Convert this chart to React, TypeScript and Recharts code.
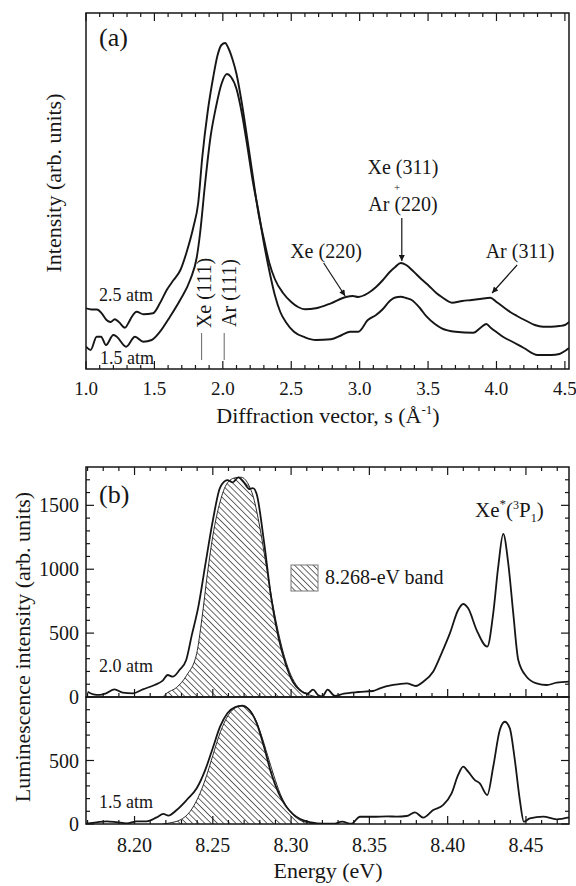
import React from 'react';
import {
  ComposedChart,
  Line,
  Area,
  XAxis,
  YAxis,
  ReferenceLine,
  ReferenceArea,
} from 'recharts';

const INK = '#161616';
const SERIF = '"Liberation Serif", "Times New Roman", Times, serif';

// ---- panel (a): electron diffraction ----
const sTicks = [1.0, 1.1, 1.2, 1.3, 1.4, 1.5, 1.6, 1.7, 1.8, 1.9, 2.0, 2.1, 2.2, 2.3, 2.4, 2.5, 2.6, 2.7, 2.8, 2.9, 3.0, 3.1, 3.2, 3.3, 3.4, 3.5, 3.6, 3.7, 3.8, 3.9, 4.0, 4.1, 4.2, 4.3, 4.4, 4.5];
const sMajor = [1.0, 1.5, 2.0, 2.5, 3.0, 3.5, 4.0, 4.5];

// 2.5 atm
const sHigh = [1.0, 1.04, 1.08, 1.115, 1.15, 1.18, 1.21, 1.24, 1.285, 1.31, 1.335, 1.37, 1.42, 1.49, 1.54, 1.59, 1.64, 1.69, 1.74, 1.785, 1.82, 1.85, 1.89, 1.93, 1.96, 1.99, 2.017, 2.04, 2.07, 2.1, 2.14, 2.18, 2.22, 2.26, 2.3, 2.34, 2.38, 2.44, 2.5, 2.55, 2.6, 2.68, 2.79, 2.9, 2.95, 2.99, 3.06, 3.12, 3.17, 3.22, 3.26, 3.3, 3.34, 3.39, 3.45, 3.5, 3.56, 3.6, 3.675, 3.75, 3.82, 3.88, 3.955, 4.0, 4.05, 4.1, 4.15, 4.22, 4.28, 4.34, 4.4, 4.46, 4.5, 4.53];
const iHigh = [60.7, 59.5, 59.5, 55.7, 49, 47, 49.7, 47, 41.3, 46, 52.3, 57.3, 54.7, 55.7, 65.7, 79, 89, 99, 119, 142, 166, 212, 258, 292, 313, 324, 326, 321, 310, 295, 265, 229, 192, 156, 130, 106, 90, 76, 67, 62, 59.7, 60.7, 65.7, 72, 73, 72, 75.7, 82, 89, 97, 102, 106, 104, 98, 90, 84, 76, 72, 66.3, 68, 69, 70, 71.3, 67, 62, 57, 53, 48, 44, 42.3, 42.3, 43, 44, 47];

// 1.5 atm
const sLow = [1.0, 1.034, 1.078, 1.11, 1.146, 1.2, 1.225, 1.293, 1.358, 1.419, 1.48, 1.541, 1.614, 1.688, 1.761, 1.81, 1.834, 1.87, 1.91, 1.95, 1.99, 2.03, 2.06, 2.1, 2.14, 2.18, 2.22, 2.26, 2.3, 2.34, 2.38, 2.42, 2.46, 2.52, 2.6, 2.68, 2.79, 2.87, 2.93, 2.99, 3.06, 3.12, 3.17, 3.22, 3.26, 3.3, 3.34, 3.38, 3.44, 3.49, 3.55, 3.6, 3.7, 3.83, 3.89, 3.926, 3.96, 4.0, 4.05, 4.12, 4.2, 4.3, 4.4, 4.46, 4.5, 4.53];
const iLow = [22.3, 19, 32.3, 32.3, 24, 34, 32.3, 22.3, 32.3, 27.3, 29, 37.3, 52.3, 69, 89, 112, 136, 185, 232, 262, 285, 295, 292, 280, 255, 222, 187, 158, 126, 98, 74, 57, 47, 37.3, 31.7, 29, 29.7, 34, 37.3, 37.3, 49, 54, 60, 68, 71.5, 72.3, 71, 69, 61, 52.3, 45, 40.7, 37.3, 36.3, 42, 45, 41, 37, 32, 27, 21, 14, 14, 15, 18, 21];

// ---- panel (b): luminescence ----
const eTicks = [8.17, 8.18, 8.19, 8.2, 8.21, 8.22, 8.23, 8.24, 8.25, 8.26, 8.27, 8.28, 8.29, 8.3, 8.31, 8.32, 8.33, 8.34, 8.35, 8.36, 8.37, 8.38, 8.39, 8.4, 8.41, 8.42, 8.43, 8.44, 8.45, 8.46, 8.47];
const eMajor = [8.2, 8.25, 8.3, 8.35, 8.4, 8.45];
const lumTicksTop = [0, 100, 200, 300, 400, 500, 600, 700, 800, 900, 1000, 1100, 1200, 1300, 1400, 1500, 1600, 1700];
const lumMajorTop = [0, 500, 1000, 1500];
const lumTicksBot = [0, 100, 200, 300, 400, 500, 600, 700, 800, 900];
const lumMajorBot = [0, 500];

// 2.0 atm spectrum
const eTop = [8.17, 8.1737, 8.1777, 8.1818, 8.1872, 8.1925, 8.199, 8.2053, 8.2128, 8.218, 8.2212, 8.2244, 8.2287, 8.233, 8.2365, 8.2407, 8.2453, 8.25, 8.2547, 8.2593, 8.2628, 8.2663, 8.2698, 8.2733, 8.2756, 8.278, 8.2826, 8.2872, 8.2919, 8.2965, 8.3012, 8.3058, 8.3105, 8.314, 8.3174, 8.32, 8.3233, 8.328, 8.3337, 8.343, 8.3523, 8.3567, 8.3652, 8.3738, 8.3797, 8.3844, 8.3908, 8.3961, 8.4014, 8.4067, 8.4099, 8.4131, 8.4185, 8.4253, 8.4291, 8.4323, 8.4355, 8.4387, 8.4419, 8.4451, 8.4504, 8.4568, 8.4632, 8.4696, 8.4775];
const lTop = [41, 21, 16, 29, 60, 34, 29, 60, 94, 128, 172, 159, 211, 290, 480, 703, 1042, 1380, 1641, 1698, 1680, 1719, 1680, 1628, 1635, 1588, 1224, 781, 469, 260, 117, 52, 26, 57, 13, 5, 57, 8, 26, 39, 47, 68, 94, 107, 86, 120, 200, 342, 498, 681, 728, 694, 524, 394, 655, 1020, 1276, 1046, 655, 290, 159, 107, 94, 112, 120];
// 8.268-eV band fit, 2.0 atm
const eFitTop = [8.218, 8.2205, 8.2269, 8.2333, 8.2397, 8.243, 8.2465, 8.25, 8.2547, 8.259, 8.264, 8.268, 8.272, 8.276, 8.28, 8.2845, 8.289, 8.2935, 8.298, 8.302, 8.306, 8.31, 8.314, 8.318];
const fTop = [0, 29, 75, 170, 340, 610, 960, 1260, 1530, 1670, 1715, 1720, 1680, 1560, 1330, 1000, 680, 420, 230, 120, 55, 25, 8, 0];

// 1.5 atm spectrum
const eBot = [8.169, 8.1758, 8.1822, 8.1886, 8.195, 8.2014, 8.2078, 8.2141, 8.2184, 8.2216, 8.2269, 8.2333, 8.2397, 8.2453, 8.25, 8.2547, 8.2593, 8.264, 8.2686, 8.2733, 8.278, 8.2826, 8.2872, 8.2919, 8.2965, 8.3012, 8.3058, 8.3128, 8.32, 8.327, 8.3326, 8.3384, 8.344, 8.3523, 8.3616, 8.3674, 8.3738, 8.3791, 8.3844, 8.3908, 8.3972, 8.4025, 8.4067, 8.4099, 8.4131, 8.4174, 8.4205, 8.4253, 8.4291, 8.4333, 8.4365, 8.4397, 8.4429, 8.4461, 8.4487, 8.4525, 8.461, 8.4696, 8.4775];
const lBot = [3, 13, 21, 14, 5, 21, 21, 52, 79, 66, 110, 189, 281, 430, 599, 768, 872, 919, 930, 898, 794, 612, 404, 247, 143, 78, 39, 13, 2, 2, 18, 2, 57, 57, 60, 58, 63, 92, 50, 110, 150, 241, 386, 451, 412, 346, 320, 228, 451, 740, 805, 753, 504, 189, 18, 45, 58, 37, 52];
// 8.268-eV band fit, 1.5 atm
const eFitBot = [8.218, 8.224, 8.229, 8.2354, 8.2418, 8.246, 8.25, 8.255, 8.26, 8.265, 8.269, 8.273, 8.277, 8.281, 8.285, 8.289, 8.293, 8.297, 8.301, 8.305, 8.31, 8.315];
const fBot = [0, 12, 31, 97, 241, 380, 540, 730, 860, 920, 935, 905, 830, 700, 540, 380, 240, 140, 75, 35, 12, 0];

const zip = (xs: number[], ys: number[]) =>
  xs.slice(0, Math.min(xs.length, ys.length)).map((x, i) => ({ x, y: ys[i] }));

const isMajor = (v: number, majors: number[]) => majors.some((m) => Math.abs(m - v) < 1e-6);

type TickArgs = { x?: number; y?: number; payload?: { value: number } };

// inward ticks on bottom (and optionally top) edge
const xTick =
  (span: number, majors: number[], top: boolean, labels: boolean, digits: number, fontSize: number, gap: number) =>
  (p: TickArgs) => {
    const x = p.x ?? 0;
    const y = p.y ?? 0;
    const v = p.payload ? p.payload.value : 0;
    const major = isMajor(v, majors);
    const len = major ? 8 : 4;
    return (
      <g>
        <line x1={x} x2={x} y1={y} y2={y - len} stroke={INK} strokeWidth={1.2} />
        {top && <line x1={x} x2={x} y1={y - span} y2={y - span + len} stroke={INK} strokeWidth={1.2} />}
        {labels && major && (
          <text x={x} y={y + gap} textAnchor="middle" fontSize={fontSize} fontFamily={SERIF} fill={INK}>
            {v.toFixed(digits)}
          </text>
        )}
      </g>
    );
  };

// inward ticks on left and right edges
const yTick = (span: number, majors: number[]) => (p: TickArgs) => {
  const x = p.x ?? 0;
  const y = p.y ?? 0;
  const v = p.payload ? p.payload.value : 0;
  const major = isMajor(v, majors);
  const len = major ? 8 : 4;
  return (
    <g>
      <line x1={x} x2={x + len} y1={y} y2={y} stroke={INK} strokeWidth={1.2} />
      <line x1={x + span} x2={x + span - len} y1={y} y2={y} stroke={INK} strokeWidth={1.2} />
      {major && (
        <text x={x - 7} y={y + 7} textAnchor="end" fontSize={20} fontFamily={SERIF} fill={INK}>
          {v}
        </text>
      )}
    </g>
  );
};

const Hatch = ({ id }: { id: string }) => (
  <pattern id={id} patternUnits="userSpaceOnUse" width={4.4} height={4.4} patternTransform="rotate(45)">
    <path d="M0,2.2 H4.4" stroke="#2a2a2a" strokeWidth={0.7} />
  </pattern>
);

const S_MAX = 4.53;
const E_MIN = 8.169;
const E_MAX = 8.4775;

export default function App() {
  const highData = zip(sHigh, iHigh);
  const lowData = zip(sLow, iLow);
  const topData = zip(eTop, lTop);
  const topFit = zip(eFitTop, fTop);
  const botData = zip(eBot, lBot);
  const botFit = zip(eFitBot, fBot);

  return (
    <div style={{ position: 'absolute', left: 0, top: 0, width: 576, height: 886, background: '#fff', fontFamily: SERIF }}>
      {/* (a) */}
      <div style={{ position: 'absolute', left: 0, top: 0 }}>
        <ComposedChart width={576} height={440} margin={{ top: 13, right: 7, bottom: 41, left: 86 }}>
          <defs>
            <marker id="arrowA" viewBox="0 0 10 10" refX={10} refY={5} markerWidth={10} markerHeight={6} markerUnits="userSpaceOnUse" orient="auto">
              <path d="M0,0 L10,5 L0,10 z" fill={INK} />
            </marker>
          </defs>
          <XAxis
            type="number"
            dataKey="x"
            domain={[1, S_MAX]}
            allowDataOverflow
            ticks={sTicks}
            interval={0}
            height={30}
            axisLine={false}
            tickLine={false}
            tickSize={0}
            tickMargin={0}
            tick={xTick(356, sMajor, true, true, 1, 19, 26)}
          />
          <YAxis type="number" domain={[0, 356]} allowDataOverflow hide />
          <ReferenceArea x1={1} x2={S_MAX} y1={0} y2={356} fill="none" stroke={INK} strokeWidth={1.5} ifOverflow="visible" />
          <Line data={highData} dataKey="y" type="monotone" stroke={INK} strokeWidth={1.9} dot={false} isAnimationActive={false} />
          <Line data={lowData} dataKey="y" type="monotone" stroke={INK} strokeWidth={1.9} dot={false} isAnimationActive={false} />
          <ReferenceLine segment={[{ x: 1.845, y: 9 }, { x: 1.845, y: 36 }]} stroke="#666" strokeWidth={1} ifOverflow="visible" />
          <ReferenceLine segment={[{ x: 2.01, y: 9 }, { x: 2.01, y: 36 }]} stroke="#666" strokeWidth={1} ifOverflow="visible" />
          <ReferenceLine segment={[{ x: 2.737, y: 106 }, { x: 2.894, y: 73 }]} stroke={INK} strokeWidth={1.2} markerEnd="url(#arrowA)" ifOverflow="visible" />
          <ReferenceLine segment={[{ x: 3.308, y: 151 }, { x: 3.308, y: 108 }]} stroke={INK} strokeWidth={1.2} markerEnd="url(#arrowA)" ifOverflow="visible" />
          <ReferenceLine segment={[{ x: 4.151, y: 104 }, { x: 3.968, y: 76 }]} stroke={INK} strokeWidth={1.2} markerEnd="url(#arrowA)" ifOverflow="visible" />
        </ComposedChart>
      </div>

      {/* (b) upper: 2.0 atm */}
      <div style={{ position: 'absolute', left: 0, top: 440 }}>
        <ComposedChart width={576} height={270} margin={{ top: 27, right: 7, bottom: 12, left: 26 }}>
          <defs>
            <Hatch id="hatchTop" />
          </defs>
          <XAxis
            type="number"
            dataKey="x"
            domain={[E_MIN, E_MAX]}
            allowDataOverflow
            ticks={eTicks}
            interval={0}
            height={1}
            axisLine={false}
            tickLine={false}
            tickSize={0}
            tickMargin={0}
            tick={xTick(230, eMajor, true, false, 2, 20, 28)}
          />
          <YAxis
            type="number"
            domain={[0, 1800]}
            allowDataOverflow
            ticks={lumTicksTop}
            interval={0}
            width={60}
            axisLine={false}
            tickLine={false}
            tickSize={0}
            tickMargin={0}
            tick={yTick(483, lumMajorTop)}
          />
          <ReferenceArea x1={E_MIN} x2={E_MAX} y1={0} y2={1800} fill="none" stroke={INK} strokeWidth={1.5} ifOverflow="visible" />
          <Area data={topFit} dataKey="y" type="monotone" fill="url(#hatchTop)" fillOpacity={1} stroke={INK} strokeWidth={0.9} isAnimationActive={false} />
          <Line data={topData} dataKey="y" type="monotone" stroke={INK} strokeWidth={1.8} dot={false} isAnimationActive={false} />
        </ComposedChart>
      </div>

      {/* (b) lower: 1.5 atm */}
      <div style={{ position: 'absolute', left: 0, top: 690 }}>
        <ComposedChart width={576} height={196} margin={{ top: 7, right: 7, bottom: 32, left: 26 }}>
          <defs>
            <Hatch id="hatchBot" />
          </defs>
          <XAxis
            type="number"
            dataKey="x"
            domain={[E_MIN, E_MAX]}
            allowDataOverflow
            ticks={eTicks}
            interval={0}
            height={30}
            axisLine={false}
            tickLine={false}
            tickSize={0}
            tickMargin={0}
            tick={xTick(127, eMajor, false, true, 2, 20, 28)}
          />
          <YAxis
            type="number"
            domain={[0, 1000]}
            allowDataOverflow
            ticks={lumTicksBot}
            interval={0}
            width={60}
            axisLine={false}
            tickLine={false}
            tickSize={0}
            tickMargin={0}
            tick={yTick(483, lumMajorBot)}
          />
          <ReferenceArea x1={E_MIN} x2={E_MAX} y1={0} y2={1000} fill="none" stroke={INK} strokeWidth={1.5} ifOverflow="visible" />
          <Area data={botFit} dataKey="y" type="monotone" fill="url(#hatchBot)" fillOpacity={1} stroke={INK} strokeWidth={0.9} isAnimationActive={false} />
          <Line data={botData} dataKey="y" type="monotone" stroke={INK} strokeWidth={1.8} dot={false} isAnimationActive={false} />
        </ComposedChart>
      </div>

      {/* labels */}
      <svg width={576} height={886} style={{ position: 'absolute', left: 0, top: 0, pointerEvents: 'none' }} fontFamily={SERIF} fill={INK}>
        <defs>
          <Hatch id="hatchKey" />
        </defs>
        <text x={99} y={46} fontSize={26}>(a)</text>
        <text x={99} y={301} fontSize={18}>2.5 atm</text>
        <text x={100} y={364} fontSize={18}>1.5 atm</text>
        <text transform="translate(203.5,293) rotate(-90)" textAnchor="middle" dominantBaseline="central" fontSize={20}>Xe (111)</text>
        <text transform="translate(229,293) rotate(-90)" textAnchor="middle" dominantBaseline="central" fontSize={20}>Ar (111)</text>
        <text x={326} y={258} textAnchor="middle" fontSize={20}>Xe (220)</text>
        <text x={403} y={174} textAnchor="middle" fontSize={20}>Xe (311)</text>
        <text x={397} y={191} textAnchor="middle" fontSize={11}>+</text>
        <text x={403} y={211} textAnchor="middle" fontSize={20}>Ar (220)</text>
        <text x={520} y={258} textAnchor="middle" fontSize={20}>Ar (311)</text>
        <text transform="translate(53,183) rotate(-90)" textAnchor="middle" dominantBaseline="central" fontSize={22}>Intensity (arb. units)</text>
        <text x={328} y={423} textAnchor="middle" fontSize={22}>
          Diffraction vector, s (Å<tspan dy={-9} fontSize={13}>-1</tspan>
          <tspan dy={9}>)</tspan>
        </text>

        <text x={99} y={503} fontSize={26}>(b)</text>
        <text x={475} y={517} fontSize={21}>
          Xe<tspan dy={-9} fontSize={13}>*</tspan>
          <tspan dy={9}>(</tspan>
          <tspan dy={-8} fontSize={12}>3</tspan>
          <tspan dy={8}>P</tspan>
          <tspan dy={5} fontSize={12}>1</tspan>
          <tspan dy={-5}>)</tspan>
        </text>
        <rect x={291} y={565} width={27} height={26} fill="url(#hatchKey)" stroke="#777" strokeWidth={1} />
        <text x={325} y={584} fontSize={20}>8.268-eV band</text>
        <text x={99} y={672} fontSize={18}>2.0 atm</text>
        <text x={99} y={808} fontSize={18}>1.5 atm</text>
        <text transform="translate(22,647) rotate(-90)" textAnchor="middle" dominantBaseline="central" fontSize={22}>Luminescence intensity (arb. units)</text>
        <text x={328} y={878} textAnchor="middle" fontSize={22}>Energy (eV)</text>
      </svg>
    </div>
  );
}
